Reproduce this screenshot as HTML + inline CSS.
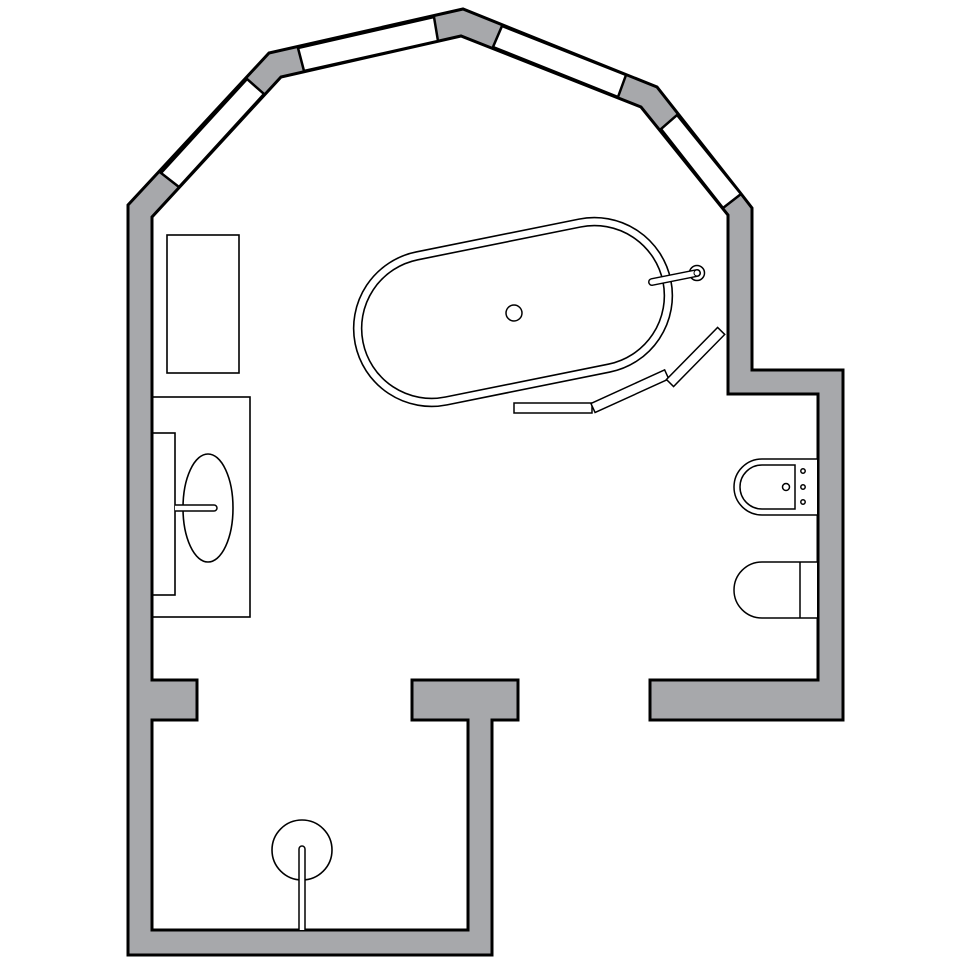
<!DOCTYPE html>
<html><head><meta charset="utf-8"><style>html,body{margin:0;padding:0;background:#fff}svg{display:block}</style></head>
<body>
<svg width="960" height="960" viewBox="0 0 960 960" xmlns="http://www.w3.org/2000/svg">
<path d="M128,205 L269,53 L463,9 L657,87 L742,195 L752,208 L752,370 L843,370 L843,720 L650,720 L650,680 L818,680 L818,394 L728,394 L728,215 L641,107 L461,36 L281,77 L152,217 L152,680 L197,680 L197,720 L152,720 L152,930 L468,930 L468,720 L412,720 L412,680 L518,680 L518,720 L492,720 L492,955 L128,955 Z" fill="#a7a8ab" stroke="#000" stroke-width="3" stroke-linejoin="miter"/>
<g fill="#fff" stroke="#000" stroke-width="2.5">
<polygon points="161,173 247,79 264,94 179,187"/>
<polygon points="298,48 434,17 438,41 304,71"/>
<polygon points="502,26 626,75 618,97 493,47"/>
<polygon points="677,115 741,194 723,208 661,129"/>
</g>
<g fill="none" stroke="#000" stroke-width="1.6">
<rect x="167" y="235" width="72" height="138"/>
<rect x="152" y="397" width="98" height="220"/>
<rect x="152" y="433" width="23" height="162"/>
<ellipse cx="208" cy="508" rx="25" ry="54"/>
</g>
<path d="M175,505 L214,505 A3,3 0 0 1 214,511 L175,511" fill="#fff" stroke="#000" stroke-width="1.5"/>
<g transform="translate(513,312) rotate(-11.4)" fill="#fff" stroke="#000" stroke-width="1.6">
<rect x="-161" y="-78" width="322" height="156" rx="78"/>
<rect x="-153" y="-70" width="306" height="140" rx="70"/>
</g>
<circle cx="514" cy="313" r="8" fill="#fff" stroke="#000" stroke-width="1.5"/>
<circle cx="697" cy="273" r="7.5" fill="#fff" stroke="#000" stroke-width="1.5"/>
<line x1="652" y1="282" x2="697" y2="273" stroke="#000" stroke-width="8" stroke-linecap="round"/>
<line x1="652" y1="282" x2="697" y2="273" stroke="#fff" stroke-width="5" stroke-linecap="round"/>
<circle cx="697" cy="273" r="3" fill="none" stroke="#000" stroke-width="1"/>
<g fill="#fff" stroke="#000" stroke-width="1.5">
<rect x="514" y="403" width="78" height="10"/>
<rect x="0" y="-5" width="81" height="10" transform="translate(593,408) rotate(-24.5)"/>
<rect x="0" y="-5" width="73" height="10" transform="translate(670,383) rotate(-45.5)"/>
</g>
<g fill="#fff" stroke="#000" stroke-width="1.5">
<path d="M817,459 L762,459 A28,28 0 0 0 762,515 L817,515"/>
<path d="M795,465 L762,465 A22,22 0 0 0 762,509 L795,509 Z"/>
<circle cx="786" cy="487" r="3.5"/>
<circle cx="803" cy="471" r="2.2"/>
<circle cx="803" cy="487" r="2.2"/>
<circle cx="803" cy="502" r="2.2"/>
<path d="M817,562 L762,562 A28,28 0 0 0 762,618 L817,618"/>
<line x1="800" y1="562" x2="800" y2="618"/>
</g>
<ellipse cx="302" cy="850" rx="30" ry="30" fill="#fff" stroke="#000" stroke-width="1.6"/>
<path d="M299,930 L299,849 A3,3 0 0 1 305,849 L305,930" fill="#fff" stroke="#000" stroke-width="1.5"/>
</svg>
</body></html>
